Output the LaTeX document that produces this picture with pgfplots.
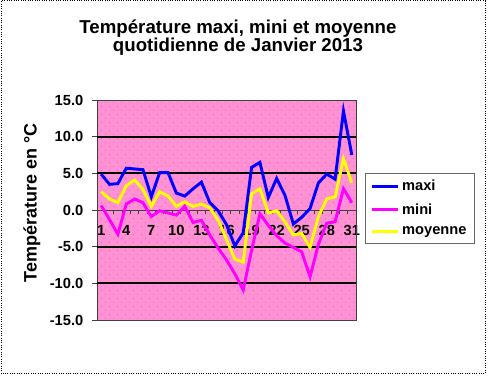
\documentclass[border=0pt]{standalone}
\usepackage{pgfplots}
\pgfplotsset{compat=1.18}
\usepackage{fontspec}
\setmainfont{Liberation Sans}
\usetikzlibrary{patterns}
\definecolor{bgpink}{RGB}{255,145,212}
\definecolor{dotpink}{RGB}{232,80,150}
\definecolor{mag}{RGB}{255,0,255}
\definecolor{yel}{RGB}{255,255,0}
\definecolor{blu}{RGB}{0,0,255}
\pgfdeclarepatternformonly{sparsedots}{\pgfpointorigin}{\pgfpoint{6pt}{6pt}}{\pgfpoint{6pt}{6pt}}{%
  \pgfpathcircle{\pgfpoint{1.5pt}{1.5pt}}{0.42pt}%
  \pgfpathcircle{\pgfpoint{4.5pt}{4.5pt}}{0.42pt}%
  \pgfusepath{fill}}
\pgfplotstableread{
d maxi mini moy
1 4.9 0.6 2.5
2 3.5 -1.3 1.5
3 3.6 -3.3 1.0
4 5.7 0.8 3.3
5 5.6 1.5 4.1
6 5.5 1.0 2.8
7 1.8 -0.9 0.5
8 5.1 -0.1 2.5
9 5.1 -0.4 1.9
10 2.3 -0.7 0.5
11 1.9 0.5 1.1
12 2.9 -1.7 0.5
13 3.8 -1.4 0.8
14 1.0 -3.4 0.3
15 -0.1 -5.2 -1.4
16 -2.0 -6.8 -4.0
17 -4.9 -8.7 -6.7
18 -3.1 -10.9 -7.1
19 5.8 -5.5 2.2
20 6.5 -0.5 2.9
21 1.7 -2.1 -0.4
22 4.3 -3.5 -0.1
23 2.0 -4.5 -1.6
24 -1.9 -5.1 -3.4
25 -1.0 -5.7 -3.2
26 0.2 -9.1 -5.1
27 3.7 -4.7 -0.9
28 4.9 -1.8 1.5
29 4.2 -1.6 1.8
30 13.5 2.9 7.0
31 7.5 1.0 3.7
}\datatable
\begin{document}
\begin{tikzpicture}[x=0.75pt,y=0.75pt]
\path (0,0) rectangle (488,375);
\draw[black, densely dotted, line width=0.75pt] (1,1.5) rectangle (485,374);
\node[font=\bfseries\fontsize{14}{16}\selectfont, anchor=base] at (238,341) {Température maxi, mini et moyenne};
\node[font=\bfseries\fontsize{14}{16}\selectfont, anchor=base] at (238,323.5) {quotidienne de Janvier 2013};
\node[font=\bfseries\fontsize{13.5}{15}\selectfont, rotate=90] at (32,172) {Température en °C};
\begin{axis}[
  at={(72.75pt,41.25pt)}, anchor=south west,
  scale only axis, width=194.25pt, height=165pt,
  xmin=0.5, xmax=31.5, ymin=-15, ymax=15,
  axis x line*=middle, axis y line*=left,
  axis line style={draw=black!75, line width=0.6pt},
  axis background/.style={fill=bgpink, postaction={pattern=sparsedots, pattern color=dotpink}},
  xtick={1,4,...,31}, minor xtick={1.5,2.5,...,30.5},
  major x tick style={draw=none},
  minor x tick style={black!75, line width=0.6pt},
  minor tick length=3pt,
  xticklabel style={font=\bfseries\fontsize{11}{13}\selectfont, yshift=-4pt},
  ytick={-15,-10,...,15},
  major y tick style={black!75, line width=0.6pt},
  major tick length=3.75pt, tick align=outside,
  yticklabel style={font=\bfseries\fontsize{11}{13}\selectfont, xshift=-3pt, /pgf/number format/.cd, fixed, fixed zerofill, precision=1, assume math mode=true},
  xticklabel style={/pgf/number format/assume math mode=true},
  clip=false,
  legend style={at={(1.035,0.668)}, anchor=north west, draw=black!60, line width=0.6pt,
    font=\bfseries\fontsize{11}{13}\selectfont, row sep=4pt, inner xsep=4pt, inner ysep=3pt,
    text width=48pt, cells={anchor=west}},
  legend image code/.code={\draw[#1, line width=2pt] (0pt,0pt) -- (19.5pt,0pt);},
]
\draw[black!75, line width=0.6pt] (rel axis cs:0,0) rectangle (rel axis cs:1,1);
\draw[black, line width=1.5pt] (axis cs:0.5,10) -- (axis cs:31.5,10);
\draw[black, line width=1.5pt] (axis cs:0.5,5) -- (axis cs:31.5,5);
\draw[black, line width=1.5pt] (axis cs:0.5,-5) -- (axis cs:31.5,-5);
\draw[black, line width=1.5pt] (axis cs:0.5,-10) -- (axis cs:31.5,-10);
\addplot[blu, line width=2.2pt] table[x=d, y=maxi] {\datatable};
\addplot[mag, line width=2.2pt] table[x=d, y=mini] {\datatable};
\addplot[yel, line width=2.2pt] table[x=d, y=moy] {\datatable};
\legend{maxi, mini, moyenne}
\end{axis}
\end{tikzpicture}
\end{document}
